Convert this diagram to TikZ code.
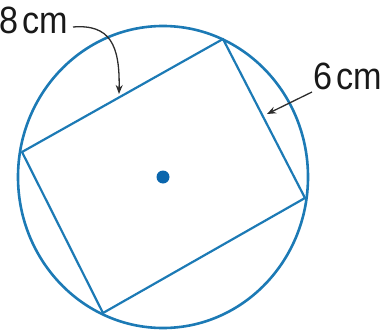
\documentclass[tikz,border=0pt]{standalone}
\usepackage{fontspec}
\setmainfont{Liberation Sans}[FakeStretch=0.9]
\usetikzlibrary{arrows.meta}
\definecolor{figblue}{RGB}{28,122,181}
\definecolor{dotblue}{RGB}{10,102,173}
\definecolor{leader}{RGB}{45,45,45}
\tikzset{
  rim/.style={draw=figblue, line width=2.6pt},
  side/.style={draw=figblue, line width=2.2pt, line join=round},
  lbl/.style={inner sep=0pt, anchor=base west, font=\fontsize{38}{40}\selectfont, text=black!90},
  lead/.style={draw=leader, line width=1.3pt, -{Stealth[length=9pt,width=7pt]}}
}
\begin{document}
\begin{tikzpicture}[x=1pt,y=-1pt]
\useasboundingbox (0,0) rectangle (391,332);
\coordinate (O) at (163,177);
\coordinate (A) at (22,152);
\coordinate (B) at (223,39);
\coordinate (C) at (305,198);
\coordinate (D) at (103,313);
\draw[rim] (O) ellipse [x radius=145, y radius=151];
\draw[side] (A) -- (B) -- (C) -- (D) -- cycle;
\fill[dotblue] (O) circle (6.5);
\node[lbl] (l8) at (-1,33) {8\kern0.12em cm};
\node[lbl] (l6) at (313,89) {6\kern0.12em cm};
\coordinate (s8) at (73,27);
\coordinate (t8) at (119,94);
\coordinate (s6) at (312,92);
\coordinate (t6) at (267,114);
\draw[lead] (s8) .. controls (110,24) and (120,45) .. (t8);
\draw[lead] (s6) -- (t6);
\end{tikzpicture}
\end{document}
